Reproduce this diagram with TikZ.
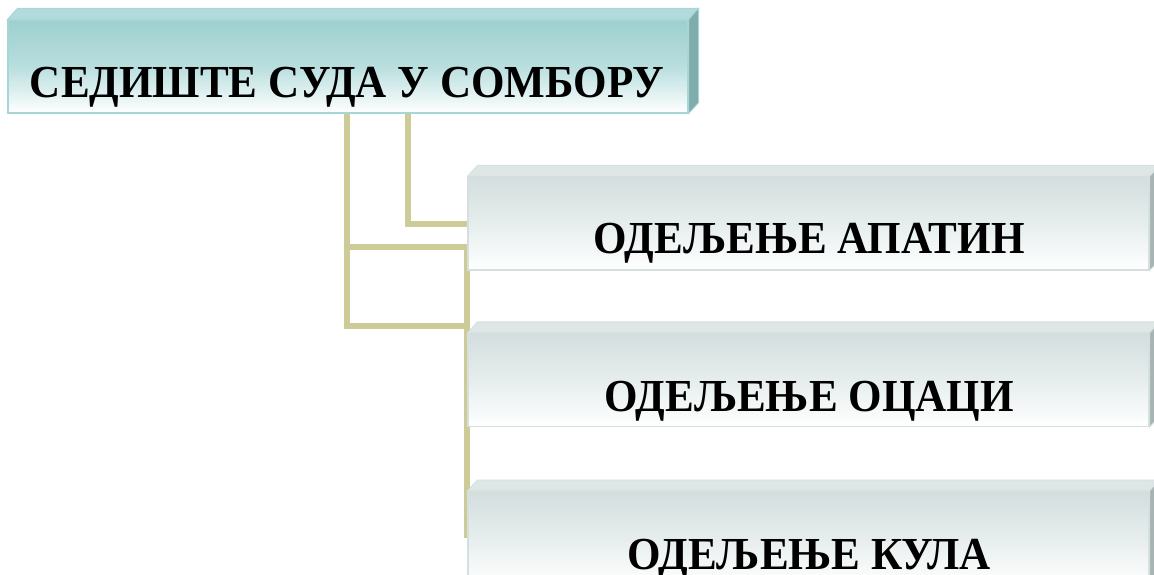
\documentclass[tikz,border=0pt]{standalone}
\usepackage{fontspec}
\setmainfont{Liberation Serif}[FakeStretch=0.94]
\usetikzlibrary{shadings}
\definecolor{lineol}{RGB}{205,203,152}
\definecolor{tealtop}{RGB}{158,207,207}
\definecolor{tealmid}{RGB}{185,222,222}
\definecolor{tealbev}{RGB}{178,220,220}
\definecolor{tealside}{RGB}{128,172,172}
\definecolor{tealline}{RGB}{166,214,214}
\definecolor{graytop}{RGB}{212,222,222}
\definecolor{graymid}{RGB}{230,237,237}
\definecolor{graybev}{RGB}{222,230,230}
\definecolor{grayside}{RGB}{168,180,180}
\definecolor{grayline}{RGB}{212,224,224}
\tikzset{
  conn/.style={draw=lineol, line width=6bp, line cap=butt, line join=miter},
  headbox/.style={rectangle, inner sep=0pt, draw=tealline, line width=1.2bp,
     top color=tealtop, bottom color=white, middle color=tealmid,
     minimum width=680bp, minimum height=93bp},
  subbox/.style={rectangle, inner sep=0pt, draw=grayline, line width=1.2bp,
     top color=graytop, bottom color=white, middle color=graymid,
     minimum width=681bp, minimum height=93bp},
  lbl/.style={anchor=base, inner sep=0pt, font=\fontsize{46}{50}\selectfont\bfseries},
}
\newcommand{\bevelbox}[4]{% name, bevel colour, side colour, line colour
  \fill[#2, draw=#4, line width=0.8bp] (#1.north west) -- ++(10,-11) -- ([shift={(10,-11)}]#1.north east) -- (#1.north east) -- cycle;
  \fill[#3, draw=#4, line width=0.8bp] (#1.north east) -- ++(10,-11) -- ([shift={(10,-11)}]#1.south east) -- (#1.south east) -- cycle;
}
\begin{document}
\begin{tikzpicture}[x=1bp,y=-1bp]
\useasboundingbox (0,0) rectangle (1154,575);
% coordinates of connector ends
\coordinate (c1) at (347,113);
\coordinate (c2) at (408,113);
\coordinate (j1) at (467,247);
\coordinate (j2) at (467,538);
% connectors (behind boxes)
\path[conn] (c1) -- (347,326) -- (469,326);
\path[conn] (347,247) -- (j1);
\path[conn] (c2) -- (408,224) -- (470,224);
\path[conn] (467,244) -- (j2);
% head box
\node[headbox] (top) at (348,66.5) {};
\bevelbox{top}{tealbev}{tealside}{tealline}
\node[lbl] (t0) at (347,98) {СЕДИШТЕ СУДА У СОМБОРУ};
% sub boxes
\node[subbox] (b1) at (808.5,223.5) {};
\bevelbox{b1}{graybev}{grayside}{grayline}
\node[lbl] (t1) at (809,254) {ОДЕЉЕЊЕ АПАТИН};
\node[subbox] (b2) at (808.5,380) {};
\bevelbox{b2}{graybev}{grayside}{grayline}
\node[lbl] (t2) at (809,411) {ОДЕЉЕЊЕ ОЦАЦИ};
\node[subbox] (b3) at (808.5,538) {};
\bevelbox{b3}{graybev}{grayside}{grayline}
\node[lbl] (t3) at (809,569) {ОДЕЉЕЊЕ КУЛА};
\end{tikzpicture}
\end{document}
